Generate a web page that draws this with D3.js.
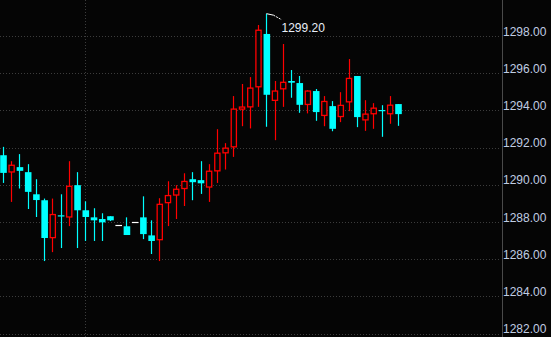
<!DOCTYPE html>
<html>
<head>
<meta charset="utf-8">
<script src="https://cdn.jsdelivr.net/npm/d3@7"></script>
<style>
  html, body { margin: 0; padding: 0; background: #050505; overflow: hidden; }
  svg { display: block; }
</style>
</head>
<body>
<div id="chart"></div>
<script>
// bar-by-bar prices
const openP = [
  1291.59, 1290.69, 1290.95, 1290.68, 1289.49, 1289.17, 1287.16, 1288.36, 1288.27, 1289.98,
  1288.63, 1288.25, 1288.16, 1288.31, 1287.86, 1287.77, 1288.02, 1288.25, 1287.28, 1287.05,
  1289.04, 1289.45, 1289.80, 1290.30, 1290.25, 1289.88, 1290.75, 1291.72, 1292.04, 1294.07,
  1294.19, 1295.27, 1298.11, 1294.54, 1295.16, 1295.58, 1295.47, 1294.32, 1295.04, 1293.73,
  1294.23, 1293.67, 1294.46, 1295.85, 1293.49, 1293.82, 1294.02, 1293.82, 1294.34
];
const highP = [
  1292.04, 1291.27, 1291.65, 1291.11, 1290.30, 1289.26, 1289.26, 1289.49, 1291.27, 1290.68,
  1289.11, 1288.74, 1288.47, 1288.31, 1287.86, 1288.25, 1288.02, 1289.38, 1288.09, 1289.28,
  1290.19, 1289.98, 1290.62, 1290.68, 1291.27, 1291.11, 1292.99, 1292.24, 1294.77, 1295.42,
  1295.79, 1298.59, 1299.20, 1295.58, 1297.57, 1296.17, 1295.85, 1295.09, 1295.15, 1294.77,
  1294.50, 1294.98, 1296.76, 1295.85, 1294.55, 1294.39, 1294.28, 1294.77, 1294.34
];
const lowP = [
  1290.10, 1289.08, 1289.80, 1288.70, 1288.27, 1285.90, 1286.38, 1286.60, 1287.78, 1286.60,
  1286.98, 1286.98, 1286.98, 1288.05, 1287.86, 1287.30, 1288.02, 1287.08, 1286.28, 1285.90,
  1287.78, 1288.16, 1288.86, 1289.17, 1289.51, 1289.08, 1290.10, 1290.82, 1291.50, 1293.15,
  1293.03, 1294.19, 1293.12, 1292.40, 1294.19, 1294.68, 1293.87, 1293.84, 1293.44, 1293.15,
  1292.88, 1293.37, 1293.96, 1293.10, 1292.90, 1293.01, 1292.58, 1293.28, 1293.17
];
const closeP = [
  1290.64, 1291.05, 1290.75, 1289.62, 1289.18, 1287.14, 1288.40, 1288.32, 1289.92, 1288.63,
  1288.27, 1288.09, 1287.98, 1288.09, 1287.86, 1287.30, 1288.02, 1287.35, 1286.98, 1288.95,
  1289.42, 1289.76, 1290.18, 1290.14, 1290.08, 1290.73, 1291.70, 1291.97, 1294.07, 1294.18,
  1295.20, 1298.31, 1294.84, 1295.04, 1295.51, 1295.49, 1294.30, 1295.04, 1293.91, 1294.48,
  1293.01, 1294.27, 1295.72, 1293.64, 1293.80, 1294.12, 1293.96, 1294.28, 1293.80
];
const yTicks = [1282, 1284, 1286, 1288, 1290, 1292, 1294, 1296, 1298];
const vGridBars = [10];

const width = 551;
const height = 337;
const axisX = 502;

const UP = '#ff0000';
const DOWN = '#00ffff';
const FLAT = '#ffffff';
const GRID = '#3c3c3c';

const candles = openP.map((o, i) => ({
  i: i,
  open: o,
  high: highP[i],
  low: lowP[i],
  close: closeP[i]
}));

const x = d3.scaleLinear().domain([0, candles.length - 1]).range([3, 398]);
const y = d3.scaleLinear().domain([1282, 1298]).range([333.6, 36]);

const svg = d3
  .select('#chart')
  .append('svg')
  .attr('width', width)
  .attr('height', height)
  .style('background', '#050505');

// grid
const grid = svg.append('g').attr('class', 'grid');
grid
  .selectAll('line.h')
  .data(yTicks)
  .enter()
  .append('line')
  .attr('class', 'h')
  .attr('x1', 0)
  .attr('x2', axisX - 2)
  .attr('y1', (d) => Math.round(y(d)) + 0.5)
  .attr('y2', (d) => Math.round(y(d)) + 0.5)
  .attr('stroke', GRID)
  .attr('stroke-dasharray', '1,2');

grid
  .selectAll('line.v')
  .data(vGridBars)
  .enter()
  .append('line')
  .attr('class', 'v')
  .attr('x1', (d) => Math.round(x(d)) + 0.5)
  .attr('x2', (d) => Math.round(x(d)) + 0.5)
  .attr('y1', 0)
  .attr('y2', height)
  .attr('stroke', GRID)
  .attr('stroke-dasharray', '1,2');

// candles
const bodyW = 6.6;
const colorOf = (d) => (d.close > d.open ? UP : d.close < d.open ? DOWN : FLAT);

const cg = svg
  .append('g')
  .selectAll('g')
  .data(candles)
  .enter()
  .append('g');

cg.append('line')
  .attr('x1', (d) => Math.round(x(d.i)) + 0.5)
  .attr('x2', (d) => Math.round(x(d.i)) + 0.5)
  .attr('y1', (d) => y(d.high))
  .attr('y2', (d) => y(d.low))
  .attr('stroke', colorOf)
  .attr('stroke-width', 1.2);

// falling bars: filled cyan
cg.filter((d) => d.close < d.open)
  .append('rect')
  .attr('x', (d) => x(d.i) - bodyW / 2 + 0.5)
  .attr('y', (d) => y(d.open))
  .attr('width', bodyW)
  .attr('height', (d) => Math.max(1.2, y(d.close) - y(d.open)))
  .attr('fill', DOWN);

// rising bars: hollow red
cg.filter((d) => d.close > d.open)
  .append('rect')
  .attr('x', (d) => x(d.i) - bodyW / 2 + 1.1)
  .attr('y', (d) => y(d.close))
  .attr('width', bodyW - 1.4)
  .attr('height', (d) => Math.max(0.8, y(d.open) - y(d.close)))
  .attr('fill', '#050505')
  .attr('stroke', UP)
  .attr('stroke-width', 1.3);

// unchanged bars: white dash
cg.filter((d) => d.close === d.open)
  .append('line')
  .attr('x1', (d) => x(d.i) - bodyW / 2 + 0.5)
  .attr('x2', (d) => x(d.i) + bodyW / 2 + 0.5)
  .attr('y1', (d) => Math.round(y(d.open)) + 0.5)
  .attr('y2', (d) => Math.round(y(d.open)) + 0.5)
  .attr('stroke', FLAT)
  .attr('stroke-width', 1.2);

// right price axis
svg
  .append('line')
  .attr('x1', axisX + 0.5)
  .attr('x2', axisX + 0.5)
  .attr('y1', 0)
  .attr('y2', height)
  .attr('stroke', '#4a4a4a');

const axis = svg
  .append('g')
  .attr('transform', `translate(${axisX},0)`)
  .call(d3.axisRight(y).tickValues(yTicks).tickFormat(d3.format('.2f')).tickSize(0));

axis.select('.domain').remove();
axis
  .selectAll('text')
  .attr('x', 1)
  .attr('y', -1)
  .attr('dy', 0)
  .attr('fill', '#c0cde3')
  .attr('font-family', '"Liberation Sans", Arial, sans-serif')
  .attr('font-size', '12px');

// highest-price marker
const hi = d3.maxIndex(highP);
const hx = Math.round(x(hi)) + 0.5;
const hy = y(highP[hi]);

svg
  .append('line')
  .attr('x1', hx)
  .attr('y1', hy)
  .attr('x2', hx + 7)
  .attr('y2', hy + 1.5)
  .attr('stroke', '#ffffff')
  .attr('stroke-width', 1);

svg
  .append('line')
  .attr('x1', hx + 7)
  .attr('y1', hy + 1.5)
  .attr('x2', hx + 15)
  .attr('y2', hy + 6)
  .attr('stroke', '#ffffff')
  .attr('stroke-width', 1)
  .attr('stroke-dasharray', '2,1');

svg
  .append('text')
  .attr('x', hx + 15)
  .attr('y', hy + 18)
  .attr('fill', '#e8eef8')
  .attr('font-family', '"Liberation Sans", Arial, sans-serif')
  .attr('font-size', '12px')
  .text(d3.format('.2f')(highP[hi]));
</script>
</body>
</html>
